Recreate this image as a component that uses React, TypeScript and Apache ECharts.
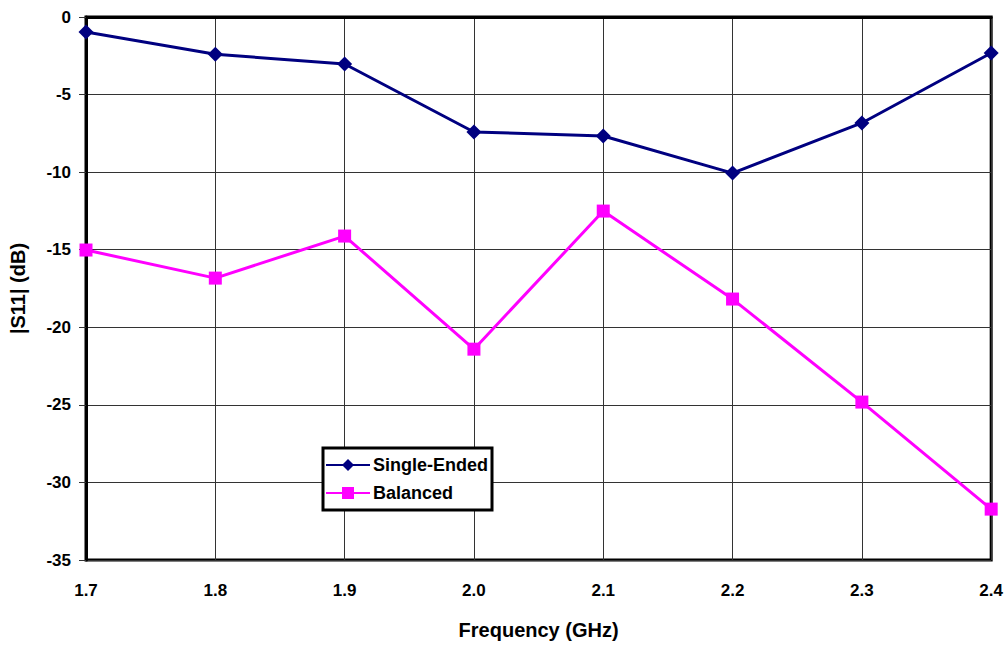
import React, { useEffect, useRef } from "react";
import * as echarts from "echarts";

const frequencies = ["1.7", "1.8", "1.9", "2.0", "2.1", "2.2", "2.3", "2.4"];
const singleEnded = [-0.97, -2.4, -3.03, -7.41, -7.67, -10.06, -6.83, -2.32];
const balanced = [-15.02, -16.83, -14.12, -21.41, -12.51, -18.18, -24.82, -31.72];

export default function App() {
  const ref = useRef<HTMLDivElement>(null);
  useEffect(() => {
    if (!ref.current) return;
    const chart = echarts.init(ref.current, undefined, { renderer: "svg" });
    const font = "'Liberation Sans', Arial, sans-serif";
    chart.setOption({
      animation: false,
      backgroundColor: "#fff",
      grid: {
        left: 84,
        right: 14,
        top: 17,
        bottom: 84,
        show: true,
        borderColor: "#000",
        borderWidth: 3,
        backgroundColor: "transparent",
      },
      legend: {
        orient: "vertical",
        left: 323,
        top: 448,
        width: 167,
        padding: [8, 4, 8, 2],
        itemGap: 10,
        itemWidth: 44,
        itemHeight: 15,
        backgroundColor: "#fff",
        borderColor: "#000",
        borderWidth: 3,
        borderRadius: 0,
        textStyle: { fontFamily: font, fontWeight: "bold", fontSize: 18, color: "#000", padding: [0, 0, 0, -2] },
        data: ["Single-Ended", "Balanced"],
      },
      xAxis: {
        type: "category",
        data: frequencies,
        boundaryGap: false,
        name: "Frequency (GHz)",
        nameLocation: "middle",
        nameGap: 60,
        nameTextStyle: { fontFamily: font, fontWeight: "bold", fontSize: 20, color: "#000" },
        axisLine: { lineStyle: { color: "#000", width: 3 } },
        axisTick: { show: false },
        axisLabel: { fontFamily: font, fontWeight: "bold", fontSize: 17, color: "#000", margin: 22 },
        splitLine: { show: true, lineStyle: { color: "#333", width: 1 } },
      },
      yAxis: {
        type: "value",
        min: -35,
        max: 0,
        interval: 5,
        name: "|S11| (dB)",
        nameLocation: "middle",
        nameGap: 58,
        nameTextStyle: { fontFamily: font, fontWeight: "bold", fontSize: 20, color: "#000" },
        axisLine: { show: true, lineStyle: { color: "#000", width: 3 } },
        axisTick: { show: true, length: 7, lineStyle: { color: "#333", width: 1 } },
        axisLabel: { fontFamily: font, fontWeight: "bold", fontSize: 17, color: "#000", margin: 15 },
        splitLine: { show: true, lineStyle: { color: "#333", width: 1 } },
      },
      series: [
        {
          name: "Single-Ended",
          type: "line",
          data: singleEnded,
          color: "#000080",
          symbol: "diamond",
          symbolSize: 15,
          lineStyle: { width: 3, color: "#000080" },
          itemStyle: { color: "#000080" },
          z: 3,
        },
        {
          name: "Balanced",
          type: "line",
          data: balanced,
          color: "#FF00FF",
          symbol: "rect",
          symbolSize: 13,
          lineStyle: { width: 3, color: "#FF00FF" },
          itemStyle: { color: "#FF00FF" },
          z: 3,
        },
      ],
    });
    return () => chart.dispose();
  }, []);
  return <div ref={ref} style={{ width: 1006, height: 645, position: "absolute", left: 0, top: 0 }} />;
}
